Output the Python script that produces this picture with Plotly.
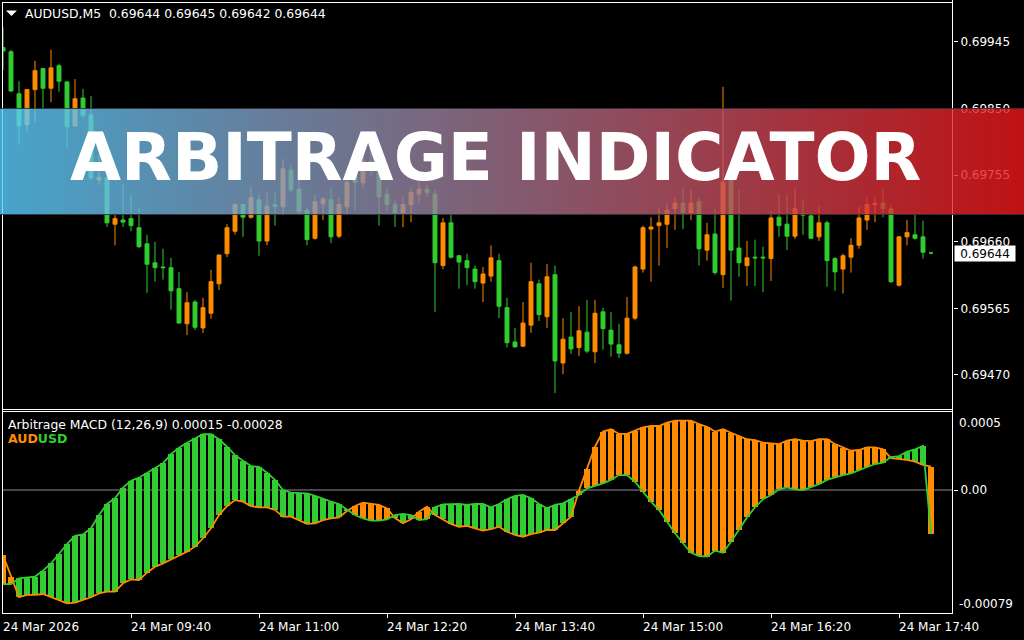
import plotly.graph_objects as go

W, H = 1024, 640

# ---------------- data ----------------
bar_index = list(range(117))

opens = [0.69937, 0.69931, 0.69871, 0.69827, 0.69877, 0.69907, 0.69879, 0.69911, 0.69888, 0.69825,
         0.69865, 0.69841, 0.69748, 0.69751, 0.69685, 0.69691, 0.69693, 0.69680, 0.69657, 0.69630,
         0.69624, 0.69623, 0.69593, 0.69543, 0.69574, 0.69537, 0.69558, 0.69600, 0.69643, 0.69675,
         0.69713, 0.69695, 0.69720, 0.69661, 0.69713, 0.69710, 0.69762, 0.69735, 0.69705, 0.69665,
         0.69714, 0.69720, 0.69668, 0.69710, 0.69757, 0.69744, 0.69775, 0.69760, 0.69728, 0.69713,
         0.69701, 0.69713, 0.69728, 0.69735, 0.69728, 0.69626, 0.69687, 0.69640, 0.69633, 0.69621,
         0.69601, 0.69611, 0.69633, 0.69566, 0.69517, 0.69511, 0.69541, 0.69600, 0.69553, 0.69613,
         0.69487, 0.69524, 0.69509, 0.69531, 0.69503, 0.69560, 0.69534, 0.69513, 0.69501, 0.69551,
         0.69621, 0.69678, 0.69683, 0.69685, 0.69707, 0.69715, 0.69701, 0.69717, 0.69648, 0.69671,
         0.69613, 0.69752, 0.69651, 0.69626, 0.69638, 0.69638, 0.69636, 0.69695, 0.69685, 0.69668,
         0.69700, 0.69697, 0.69667, 0.69687, 0.69636, 0.69621, 0.69638, 0.69655, 0.69691, 0.69713,
         0.69715, 0.69707, 0.69598, 0.69667, 0.69670, 0.69667, 0.69644]
highs = [0.69966, 0.69934, 0.69889, 0.69878, 0.69918, 0.69908, 0.69934, 0.69914, 0.69889, 0.69892,
         0.69878, 0.69868, 0.69784, 0.69754, 0.69698, 0.69742, 0.69727, 0.69708, 0.69670, 0.69660,
         0.69650, 0.69637, 0.69617, 0.69588, 0.69577, 0.69580, 0.69620, 0.69642, 0.69685, 0.69715,
         0.69714, 0.69738, 0.69727, 0.69730, 0.69730, 0.69778, 0.69770, 0.69748, 0.69708, 0.69727,
         0.69724, 0.69738, 0.69723, 0.69758, 0.69777, 0.69791, 0.69791, 0.69774, 0.69738, 0.69720,
         0.69724, 0.69737, 0.69744, 0.69741, 0.69734, 0.69694, 0.69701, 0.69641, 0.69643, 0.69626,
         0.69624, 0.69655, 0.69643, 0.69580, 0.69537, 0.69574, 0.69630, 0.69606, 0.69628, 0.69626,
         0.69551, 0.69560, 0.69568, 0.69577, 0.69577, 0.69566, 0.69560, 0.69543, 0.69581, 0.69626,
         0.69683, 0.69695, 0.69708, 0.69715, 0.69723, 0.69738, 0.69735, 0.69723, 0.69687, 0.69707,
         0.69881, 0.69755, 0.69734, 0.69661, 0.69663, 0.69653, 0.69703, 0.69728, 0.69727, 0.69737,
         0.69721, 0.69701, 0.69710, 0.69690, 0.69638, 0.69643, 0.69665, 0.69710, 0.69724, 0.69724,
         0.69735, 0.69713, 0.69668, 0.69691, 0.69700, 0.69690, 0.69645]
lows = [0.69905, 0.69874, 0.69798, 0.69817, 0.69831, 0.69849, 0.69859, 0.69874, 0.69794, 0.69824,
        0.69837, 0.69748, 0.69741, 0.69681, 0.69655, 0.69681, 0.69675, 0.69651, 0.69587, 0.69603,
        0.69606, 0.69563, 0.69543, 0.69527, 0.69534, 0.69530, 0.69550, 0.69591, 0.69638, 0.69670,
        0.69667, 0.69693, 0.69640, 0.69655, 0.69683, 0.69698, 0.69731, 0.69700, 0.69655, 0.69663,
        0.69691, 0.69658, 0.69665, 0.69698, 0.69705, 0.69737, 0.69755, 0.69683, 0.69705, 0.69681,
        0.69681, 0.69688, 0.69715, 0.69724, 0.69560, 0.69621, 0.69636, 0.69593, 0.69598, 0.69593,
        0.69574, 0.69603, 0.69551, 0.69509, 0.69509, 0.69510, 0.69530, 0.69547, 0.69537, 0.69444,
        0.69471, 0.69500, 0.69497, 0.69501, 0.69487, 0.69506, 0.69496, 0.69494, 0.69499, 0.69548,
        0.69616, 0.69603, 0.69626, 0.69651, 0.69677, 0.69678, 0.69691, 0.69626, 0.69633, 0.69613,
        0.69594, 0.69576, 0.69610, 0.69597, 0.69597, 0.69588, 0.69604, 0.69667, 0.69648, 0.69664,
        0.69670, 0.69664, 0.69661, 0.69596, 0.69590, 0.69586, 0.69616, 0.69650, 0.69677, 0.69688,
        0.69695, 0.69601, 0.69596, 0.69655, 0.69663, 0.69636, 0.69642]
closes = [0.69932, 0.69875, 0.69825, 0.69877, 0.69904, 0.69879, 0.69908, 0.69889, 0.69824, 0.69864,
          0.69840, 0.69751, 0.69752, 0.69687, 0.69693, 0.69688, 0.69683, 0.69653, 0.69628, 0.69623,
          0.69623, 0.69590, 0.69544, 0.69573, 0.69538, 0.69566, 0.69603, 0.69641, 0.69680, 0.69713,
          0.69695, 0.69723, 0.69661, 0.69711, 0.69710, 0.69764, 0.69734, 0.69703, 0.69663, 0.69717,
          0.69721, 0.69667, 0.69713, 0.69745, 0.69745, 0.69775, 0.69771, 0.69724, 0.69713, 0.69701,
          0.69713, 0.69730, 0.69735, 0.69730, 0.69630, 0.69687, 0.69638, 0.69631, 0.69623, 0.69603,
          0.69614, 0.69637, 0.69568, 0.69516, 0.69510, 0.69544, 0.69603, 0.69556, 0.69610, 0.69490,
          0.69521, 0.69507, 0.69533, 0.69504, 0.69558, 0.69536, 0.69514, 0.69501, 0.69551, 0.69624,
          0.69680, 0.69681, 0.69687, 0.69705, 0.69715, 0.69701, 0.69715, 0.69650, 0.69670, 0.69616,
          0.69745, 0.69648, 0.69630, 0.69637, 0.69637, 0.69637, 0.69694, 0.69683, 0.69668, 0.69707,
          0.69698, 0.69665, 0.69687, 0.69633, 0.69617, 0.69640, 0.69655, 0.69694, 0.69713, 0.69715,
          0.69707, 0.69603, 0.69667, 0.69673, 0.69665, 0.69645, 0.69644]

# Arbitrage MACD: AUD line (orange) and USD line (green)
macd_aud = [-0.000418, -0.000559, -0.000689, -0.000674, -0.000674, -0.000668, -0.000689, -0.000707, -0.000728, -0.000724,
            -0.000707, -0.000689, -0.000664, -0.000653, -0.000653, -0.000599, -0.000574, -0.000578, -0.000531, -0.000493,
            -0.000471, -0.000445, -0.000418, -0.000397, -0.000364, -0.000310, -0.000246, -0.000161, -0.000103, -0.000065,
            -0.000075, -0.000103, -0.000111, -0.000111, -0.000128, -0.000171, -0.000171, -0.000193, -0.000218, -0.000214,
            -0.000193, -0.000182, -0.000176, -0.000135, -0.000103, -0.000081, -0.000090, -0.000096, -0.000118, -0.000180,
            -0.000214, -0.000188, -0.000140, -0.000107, -0.000161, -0.000188, -0.000218, -0.000236, -0.000231, -0.000246,
            -0.000261, -0.000252, -0.000236, -0.000268, -0.000289, -0.000300, -0.000283, -0.000274, -0.000257, -0.000257,
            -0.000214, -0.000171, -0.000004, 0.000133, 0.000278, 0.000375, 0.000390, 0.000360, 0.000360, 0.000381,
            0.000403, 0.000411, 0.000411, 0.000433, 0.000445, 0.000445, 0.000445, 0.000424, 0.000406, 0.000375,
            0.000390, 0.000368, 0.000347, 0.000326, 0.000321, 0.000304, 0.000300, 0.000295, 0.000317, 0.000326,
            0.000317, 0.000314, 0.000326, 0.000326, 0.000295, 0.000272, 0.000252, 0.000257, 0.000274, 0.000274,
            0.000261, 0.000205, 0.000199, 0.000193, 0.000182, 0.000161, 0.000150]
macd_usd = [-0.000604, -0.000604, -0.000567, -0.000563, -0.000556, -0.000518, -0.000471, -0.000411, -0.000347, -0.000295,
            -0.000285, -0.000246, -0.000161, -0.000090, -0.000053, 0.000015, 0.000059, 0.000079, 0.000111, 0.000140,
            0.000171, 0.000231, 0.000272, 0.000304, 0.000332, 0.000358, 0.000358, 0.000326, 0.000278, 0.000224,
            0.000188, 0.000154, 0.000149, 0.000111, 0.000065, 0.000000, -0.000017, -0.000021, -0.000021, -0.000038,
            -0.000059, -0.000075, -0.000090, -0.000128, -0.000161, -0.000182, -0.000197, -0.000197, -0.000188, -0.000161,
            -0.000154, -0.000161, -0.000193, -0.000188, -0.000111, -0.000092, -0.000092, -0.000090, -0.000096, -0.000090,
            -0.000090, -0.000111, -0.000090, -0.000059, -0.000038, -0.000032, -0.000053, -0.000090, -0.000118, -0.000096,
            -0.000086, -0.000059, -0.000032, 0.000011, 0.000025, 0.000043, 0.000065, 0.000096, 0.000096, 0.000053,
            -0.000011, -0.000075, -0.000128, -0.000204, -0.000278, -0.000342, -0.000403, -0.000424, -0.000428, -0.000390,
            -0.000403, -0.000332, -0.000257, -0.000176, -0.000111, -0.000059, -0.000032, 0.000004, 0.000017, 0.000004,
            0.000000, 0.000017, 0.000038, 0.000065, 0.000081, 0.000096, 0.000107, 0.000128, 0.000149, 0.000167,
            0.000176, 0.000212, 0.000218, 0.000246, 0.000261, 0.000283, -0.000280]

time_ticks = [0, 16, 32, 48, 64, 80, 96, 112]
time_labels = ["24 Mar 2026", "24 Mar 09:40", "24 Mar 11:00", "24 Mar 12:20",
               "24 Mar 13:40", "24 Mar 15:00", "24 Mar 16:20", "24 Mar 17:40"]
price_ticks = [0.69945, 0.69850, 0.69755, 0.69660, 0.69565, 0.69470]
last_price = 0.69644
header_text = "AUDUSD,M5\u00a0\u00a00.69644 0.69645 0.69642 0.69644"
macd_header = "Arbitrage MACD (12,26,9) 0.00015 -0.00028"
sub_max_label, sub_min_label = "0.0005", "-0.00079"

# ---------------- style ----------------
UP = "#FF8C00"
DOWN = "#32CD32"
FONT = "DejaVu Sans"


def px(x):
    return x / W


def py(y):
    return 1 - y / H


fig = go.Figure()

fig.add_trace(go.Candlestick(
    x=bar_index, open=opens, high=highs, low=lows, close=closes,
    increasing=dict(line=dict(color=UP, width=1), fillcolor=UP),
    decreasing=dict(line=dict(color=DOWN, width=1), fillcolor=DOWN),
    whiskerwidth=0, xaxis="x", yaxis="y", hoverinfo="skip"))

diff = [a - u for a, u in zip(macd_aud, macd_usd)]
bar_colors = [UP if a > u else DOWN for a, u in zip(macd_aud, macd_usd)]
fig.add_trace(go.Bar(x=bar_index, y=diff, base=macd_usd, width=0.68,
                     marker=dict(color=bar_colors, line=dict(width=0)),
                     xaxis="x", yaxis="y2", hoverinfo="skip"))
fig.add_trace(go.Scatter(x=bar_index, y=macd_aud, mode="lines",
                         line=dict(color=UP, width=1.8), xaxis="x", yaxis="y2", hoverinfo="skip"))
fig.add_trace(go.Scatter(x=bar_index, y=macd_usd, mode="lines",
                         line=dict(color=DOWN, width=1.8), xaxis="x", yaxis="y2", hoverinfo="skip"))

shapes = []
# zero level in sub window
shapes.append(dict(type="line", xref="paper", yref="y2", x0=px(2), x1=px(953), y0=0, y1=0,
                   line=dict(color="#8A8AA0", width=1), layer="below"))
# window frames
frame = dict(color="white", width=1)
for (x0, y0, x1, y1) in [(2.5, 2, 2.5, 613.5), (952.5, 0, 952.5, 613.5), (2, 2.5, 953, 2.5),
                         (2, 409.5, 953, 409.5), (2, 411.5, 953, 411.5), (2, 613.5, 953, 613.5)]:
    shapes.append(dict(type="line", xref="paper", yref="paper", x0=px(x0), x1=px(x1),
                       y0=py(y0), y1=py(y1), line=frame, layer="above"))
# header triangle
shapes.append(dict(type="path", xref="paper", yref="paper",
                   path=f"M {px(6)} {py(10.5)} L {px(17)} {py(10.5)} L {px(11.5)} {py(16)} Z",
                   fillcolor="white", line=dict(width=0), layer="above"))

# gradient banner
left_c, right_c = (88, 206, 255), (238, 22, 25)
N = 256
for k in range(N):
    t = (k + 0.5) / N
    c = tuple(int(round(left_c[j] + (right_c[j] - left_c[j]) * t)) for j in range(3))
    shapes.append(dict(type="rect", xref="paper", yref="paper",
                       x0=k * 4 / W, x1=(k + 1) * 4 / W, y0=py(215), y1=py(108),
                       fillcolor=f"rgba({c[0]},{c[1]},{c[2]},0.8)", line=dict(width=0), layer="above"))
for yy in (108.5, 214.5):
    shapes.append(dict(type="line", xref="paper", yref="paper", x0=0, x1=1, y0=py(yy), y1=py(yy),
                       line=dict(color="rgba(45,45,55,0.9)", width=1), layer="above"))

annotations = []
annotations.append(dict(text=header_text, xref="paper", yref="paper", x=px(23), y=py(13.5),
                        xanchor="left", yanchor="middle", showarrow=False,
                        font=dict(family=FONT, size=12.4, color="white")))
annotations.append(dict(text=macd_header, xref="paper", yref="paper", x=px(6), y=py(424),
                        xanchor="left", yanchor="middle", showarrow=False,
                        font=dict(family=FONT, size=12.4, color="white")))
annotations.append(dict(text=f"<span style='color:{UP}'>AUD</span><span style='color:{DOWN}'>USD</span>",
                        xref="paper", yref="paper", x=px(6), y=py(438),
                        xanchor="left", yanchor="middle", showarrow=False,
                        font=dict(family=FONT, size=12.5, color=UP, weight="bold")))
for t, lab in zip(time_ticks, time_labels):
    annotations.append(dict(text=lab, xref="x", yref="paper", x=t, y=py(626.5),
                            xanchor="left", yanchor="middle", showarrow=False, xshift=-2,
                            font=dict(family=FONT, size=12, color="white")))
annotations.append(dict(text=sub_max_label, xref="paper", yref="paper", x=px(957), y=py(422.5),
                        xanchor="left", yanchor="middle", showarrow=False,
                        font=dict(family=FONT, size=12, color="white")))
annotations.append(dict(text=sub_min_label, xref="paper", yref="paper", x=px(957), y=py(604),
                        xanchor="left", yanchor="middle", showarrow=False,
                        font=dict(family=FONT, size=12, color="white")))
annotations.append(dict(text=f"{last_price:.5f}", xref="paper", yref="y", x=px(954), y=last_price,
                        xanchor="left", yanchor="middle", showarrow=False, bgcolor="white",
                        width=58, height=13, borderpad=1, yshift=-1,
                        font=dict(family=FONT, size=12, color="black")))
annotations.append(dict(text="ARBITRAGE INDICATOR", xref="paper", yref="paper", x=px(495), y=py(158),
                        xanchor="center", yanchor="middle", showarrow=False,
                        font=dict(family=FONT, size=66, color="white", weight="bold")))

fig.update_layout(
    width=W, height=H, margin=dict(l=0, r=0, t=0, b=0),
    paper_bgcolor="black", plot_bgcolor="black", showlegend=False,
    boxgap=0.3, bargap=0,
    xaxis=dict(domain=[px(2), px(953)], range=[-0.125, 118.75], anchor="y2",
               showgrid=False, zeroline=False, showline=False,
               tickvals=time_ticks[1:], ticks="outside", ticklen=4, tickcolor="white",
               showticklabels=False, rangeslider=dict(visible=False), fixedrange=True),
    yaxis=dict(domain=[py(409), py(2)], range=[0.694214, 0.700020], side="right", anchor="x",
               showgrid=False, zeroline=False, tickvals=price_ticks,
               ticktext=[f"{v:.5f}" for v in price_ticks], ticks="outside", ticklen=4,
               tickcolor="white", tickfont=dict(family=FONT, size=12, color="white")),
    yaxis2=dict(domain=[py(613), py(412)], range=[-0.00079, 0.000501], side="right", anchor="x",
                showgrid=False, zeroline=False, tickvals=[0], ticktext=["0.00"], ticks="outside",
                ticklen=4, tickcolor="white", tickfont=dict(family=FONT, size=12, color="white")),
    shapes=shapes, annotations=annotations,
)

fig.write_html("out.html", config={"displayModeBar": False},
               post_script="document.body.style.margin='0px';document.body.style.padding='0px';"
                           "document.documentElement.style.overflow='hidden';")
